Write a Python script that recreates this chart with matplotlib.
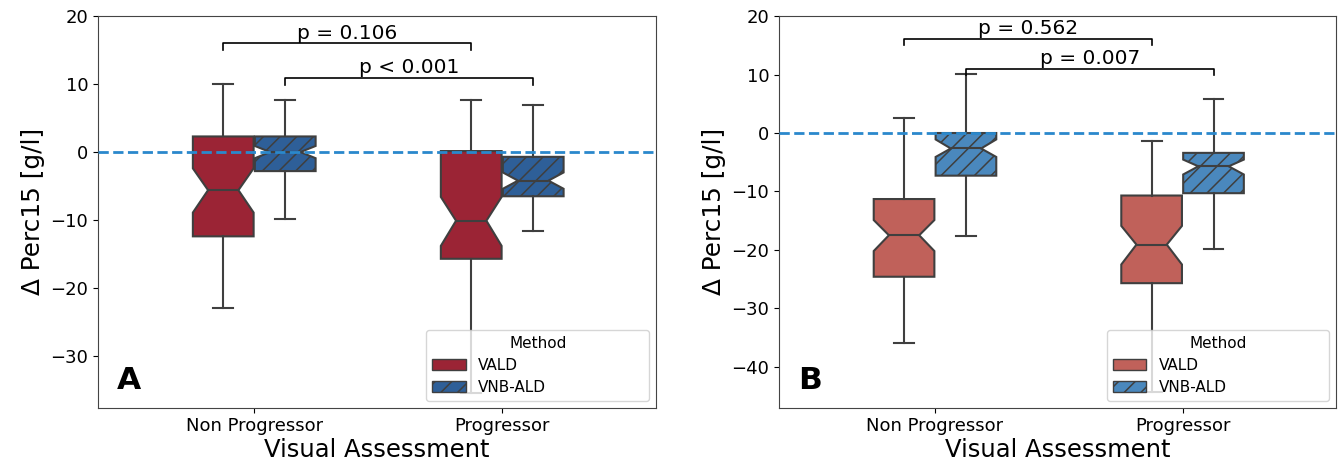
import matplotlib
matplotlib.use("Agg")
import matplotlib.pyplot as plt
from matplotlib.patches import Patch

plt.rcParams["hatch.linewidth"] = 1.1
plt.rcParams["hatch.color"] = "#3f3f3f"

categories = ["Non Progressor", "Progressor"]
methods = ["VALD", "VNB-ALD"]

# Panel A stats per method: [NonProg, Prog]
A_VALD = dict(whislo=[-23.0, -35.4], q1=[-12.4, -15.7], med=[-5.6, -10.1], q3=[2.3, 0.15], whishi=[10.0, 7.6],
              cilo=[-8.9, -13.8], cihi=[-2.4, -6.6])
A_VNB = dict(whislo=[-9.9, -11.6], q1=[-2.8, -6.5], med=[0.0, -4.2], q3=[2.3, -0.7], whishi=[7.6, 7.0],
             cilo=[-0.9, -5.4], cihi=[0.9, -3.0])
# Panel B
B_VALD = dict(whislo=[-36.0, -44.3], q1=[-24.6, -25.7], med=[-17.5, -19.1], q3=[-11.3, -10.7], whishi=[2.5, -1.4],
              cilo=[-20.2, -22.5], cihi=[-14.9, -15.9])
B_VNB = dict(whislo=[-17.7, -19.8], q1=[-7.3, -10.3], med=[-2.65, -5.7], q3=[0.0, -3.4], whishi=[10.1, 5.9],
             cilo=[-4.1, -7.1], cihi=[-1.1, -4.55])

A_pvals = ["p = 0.106", "p < 0.001"]
B_pvals = ["p = 0.562", "p = 0.007"]
A_brackets = [16.0, 10.9]
B_brackets = [16.1, 11.0]

A_colors = ["#9b2435", "#2e5f98"]
B_colors = ["#c0615a", "#4a88bd"]
A_ylim = (-37.6, 20)
B_ylim = (-47.0, 20)

edge = "#3f3f3f"
fig = plt.figure(figsize=(13.39, 4.68), dpi=100)
axA = fig.add_axes([0.0732, 0.129, 0.4167, 0.8365])
axB = fig.add_axes([0.5818, 0.129, 0.4160, 0.8365])

def draw(ax, vald, vnb, colors, pvals, brackets, ylim, letter, yticks):
    offs = [-0.125, 0.125]
    for mi, (st, col) in enumerate(zip([vald, vnb], colors)):
        stats = []
        for ci in range(len(categories)):
            stats.append(dict(whislo=st["whislo"][ci], q1=st["q1"][ci], med=st["med"][ci], q3=st["q3"][ci],
                              whishi=st["whishi"][ci], cilo=st["cilo"][ci], cihi=st["cihi"][ci], fliers=[]))
        pos = [ci + offs[mi] for ci in range(len(categories))]
        bp = ax.bxp(stats, positions=pos, widths=0.245, shownotches=True, patch_artist=True,
                    showfliers=False, capwidths=0.08,
                    boxprops=dict(facecolor=col, edgecolor=edge, linewidth=1.5,
                                  hatch="//" if mi == 1 else None),
                    medianprops=dict(color=edge, linewidth=1.5),
                    whiskerprops=dict(color=edge, linewidth=1.5),
                    capprops=dict(color=edge, linewidth=1.5))
        for b in bp["boxes"]:
            b.set_zorder(2)
    ax.axhline(0, color="#2a88cc", linestyle="--", linewidth=2, zorder=3)
    # brackets
    for k, (p, yb) in enumerate(zip(pvals, brackets)):
        x1 = 0 + offs[k]
        x2 = 1 + offs[k]
        ax.plot([x1, x1, x2, x2], [yb - 1.0, yb, yb, yb - 1.0], color="black", lw=1.2)
        ax.text((x1 + x2) / 2, yb + 0.1, p, ha="center", va="bottom", fontsize=14.5)
    ax.set_xlim(-0.63, 1.62)
    ax.set_ylim(*ylim)
    ax.set_xticks(range(len(categories)))
    ax.set_xticklabels(categories, fontsize=13)
    ax.set_yticks(yticks)
    ax.set_yticklabels([("\u2212" + str(-t)) if t < 0 else str(t) for t in yticks], fontsize=13)
    ax.set_xlabel("Visual Assessment", fontsize=17.5, labelpad=2)
    ax.set_ylabel("\u0394 Perc15 [g/l]", fontsize=17.8)
    for s in ax.spines.values():
        s.set_color("#444444")
    handles = [Patch(facecolor=colors[0], edgecolor=edge, label=methods[0]),
               Patch(facecolor=colors[1], edgecolor=edge, hatch="//", label=methods[1])]
    ax.legend(handles=handles, title="Method", loc="lower left", mode="expand",
              bbox_to_anchor=(0.588, 0.017, 0.4, 0.178), fontsize=11, title_fontsize=11,
              handlelength=2.2, borderaxespad=0, labelspacing=0.45)
    ax.text(0.034, 0.033, letter, transform=ax.transAxes, fontsize=22.5, fontweight="heavy",
            ha="left", va="bottom")

draw(axA, A_VALD, A_VNB, A_colors, A_pvals, A_brackets, A_ylim, "A", [-30, -20, -10, 0, 10, 20])
draw(axB, B_VALD, B_VNB, B_colors, B_pvals, B_brackets, B_ylim, "B", [-40, -30, -20, -10, 0, 10, 20])

fig.savefig("out.png", dpi=100)
